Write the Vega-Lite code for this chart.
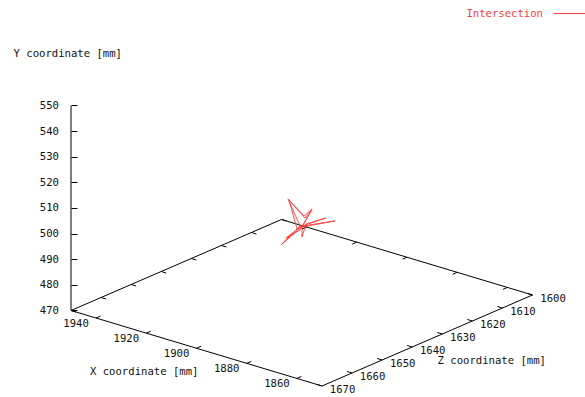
{
  "$schema": "https://vega.github.io/schema/vega-lite/v6.json",
  "autosize": {"type": "none"},
  "padding": {"left": 71, "top": 0, "right": 0, "bottom": 0},
  "width": 514,
  "height": 397,
  "background": "white",
  "config": {
    "view": {"stroke": null},
    "font": "DejaVu Sans Mono",
    "text": {"font": "DejaVu Sans Mono", "fontSize": 10.6, "fill": "#111"}
  },
  "resolve": {"axis": {"x": "independent", "y": "independent"}},
  "datasets": {
    "frame": [
      {"X1": 1950, "Y1": 470, "Z1": 1670, "X2": 1850, "Y2": 470, "Z2": 1670},
      {"X1": 1850, "Y1": 470, "Z1": 1670, "X2": 1850, "Y2": 470, "Z2": 1600},
      {"X1": 1850, "Y1": 470, "Z1": 1600, "X2": 1950, "Y2": 470, "Z2": 1600},
      {"X1": 1950, "Y1": 470, "Z1": 1600, "X2": 1950, "Y2": 470, "Z2": 1670},
      {"X1": 1950, "Y1": 470, "Z1": 1670, "X2": 1950, "Y2": 550, "Z2": 1670}
    ],
    "ticks": [
      {"axis": "X", "value": 1940, "edge": "front"},
      {"axis": "X", "value": 1920, "edge": "front"},
      {"axis": "X", "value": 1900, "edge": "front"},
      {"axis": "X", "value": 1880, "edge": "front"},
      {"axis": "X", "value": 1860, "edge": "front"},
      {"axis": "X", "value": 1940, "edge": "back"},
      {"axis": "X", "value": 1920, "edge": "back"},
      {"axis": "X", "value": 1900, "edge": "back"},
      {"axis": "X", "value": 1880, "edge": "back"},
      {"axis": "X", "value": 1860, "edge": "back"},
      {"axis": "Z", "value": 1600, "edge": "right"},
      {"axis": "Z", "value": 1610, "edge": "right"},
      {"axis": "Z", "value": 1620, "edge": "right"},
      {"axis": "Z", "value": 1630, "edge": "right"},
      {"axis": "Z", "value": 1640, "edge": "right"},
      {"axis": "Z", "value": 1650, "edge": "right"},
      {"axis": "Z", "value": 1660, "edge": "right"},
      {"axis": "Z", "value": 1670, "edge": "right"},
      {"axis": "Z", "value": 1600, "edge": "left"},
      {"axis": "Z", "value": 1610, "edge": "left"},
      {"axis": "Z", "value": 1620, "edge": "left"},
      {"axis": "Z", "value": 1630, "edge": "left"},
      {"axis": "Z", "value": 1640, "edge": "left"},
      {"axis": "Z", "value": 1650, "edge": "left"},
      {"axis": "Z", "value": 1660, "edge": "left"},
      {"axis": "Z", "value": 1670, "edge": "left"}
    ],
    "titles": [
      {"label": "X coordinate [mm]", "X": 1900, "Y": 470, "Z": 1670},
      {"label": "Z coordinate [mm]", "X": 1850, "Y": 470, "Z": 1635}
    ],
    "intersection": [
      {"series": "Intersection", "i": 1, "X": 1891.1, "Y": 506.6, "Z": 1643},
      {"series": "Intersection", "i": 2, "X": 1895.9, "Y": 515.8, "Z": 1643},
      {"series": "Intersection", "i": 3, "X": 1889.5, "Y": 511.0, "Z": 1643},
      {"series": "Intersection", "i": 4, "X": 1886.3, "Y": 514.7, "Z": 1643},
      {"series": "Intersection", "i": 5, "X": 1890.3, "Y": 506.5, "Z": 1643},
      {"series": "Intersection", "i": 6, "X": 1877.2, "Y": 512.7, "Z": 1643},
      {"series": "Intersection", "i": 7, "X": 1889.9, "Y": 507.0, "Z": 1643},
      {"series": "Intersection", "i": 8, "X": 1898.7, "Y": 497.0, "Z": 1643},
      {"series": "Intersection", "i": 9, "X": 1892.3, "Y": 505.1, "Z": 1643},
      {"series": "Intersection", "i": 10, "X": 1895.5, "Y": 515.5, "Z": 1643},
      {"series": "Intersection", "i": 11, "X": 1889.1, "Y": 510.3, "Z": 1643},
      {"series": "Intersection", "i": 12, "X": 1886.7, "Y": 513.8, "Z": 1643},
      {"series": "Intersection", "i": 13, "X": 1891.1, "Y": 505.1, "Z": 1643},
      {"series": "Intersection", "i": 14, "X": 1896.7, "Y": 500.3, "Z": 1643},
      {"series": "Intersection", "i": 15, "X": 1890.3, "Y": 506.9, "Z": 1643},
      {"series": "Intersection", "i": 16, "X": 1890.3, "Y": 502.6, "Z": 1643},
      {"series": "Intersection", "i": 17, "X": 1888.7, "Y": 508.1, "Z": 1643},
      {"series": "Intersection", "i": 18, "X": 1880.8, "Y": 512.8, "Z": 1643},
      {"series": "Intersection", "i": 19, "X": 1891.5, "Y": 506.1, "Z": 1643},
      {"series": "Intersection", "i": 20, "X": 1897.9, "Y": 498.0, "Z": 1643},
      {"series": "Intersection", "i": 21, "X": 1890.7, "Y": 507.1, "Z": 1643}
    ]
  },
  "layer": [
    {
      "data": {"name": "frame"},
      "transform": [
        {"calculate": "2.51*(1950-datum.X1) + 3.007143*(1670-datum.Z1)", "as": "px1"},
        {"calculate": "datum.Y1 - 0.390244*(0.755*(1950-datum.X1) - 1.3*(1670-datum.Z1))", "as": "py1"},
        {"calculate": "2.51*(1950-datum.X2) + 3.007143*(1670-datum.Z2)", "as": "px2"},
        {"calculate": "datum.Y2 - 0.390244*(0.755*(1950-datum.X2) - 1.3*(1670-datum.Z2))", "as": "py2"}
      ],
      "mark": {"type": "rule", "stroke": "#000", "strokeWidth": 1},
      "encoding": {
        "x": {"field": "px1", "type": "quantitative", "scale": {"domain": [0, 514], "zero": false, "nice": false}, "axis": null},
        "x2": {"field": "px2"},
        "y": {"field": "py1", "type": "quantitative", "scale": {"domain": [436.24, 591.17], "zero": false, "nice": false},
          "axis": {
            "values": [470, 480, 490, 500, 510, 520, 530, 540, 550],
            "domain": false, "grid": false,
            "tickSize": -6, "tickColor": "#000", "tickWidth": 1,
            "labelPadding": 18.5, "labelFont": "DejaVu Sans Mono", "labelFontSize": 10.6, "labelColor": "#111",
            "title": "Y coordinate [mm]", "titleAngle": 0, "titleAlign": "left", "titleBaseline": "middle",
            "titleX": -58, "titleY": 53, "titleFont": "DejaVu Sans Mono", "titleFontSize": 10.6,
            "titleFontWeight": "normal", "titleColor": "#111"
          }},
        "y2": {"field": "py2"}
      }
    },
    {
      "data": {"name": "ticks"},
      "transform": [
        {"calculate": "datum.axis=='X' ? datum.value : (datum.edge=='right' ? 1850 : 1950)", "as": "X1"},
        {"calculate": "datum.axis=='Z' ? datum.value : (datum.edge=='front' ? 1670 : 1600)", "as": "Z1"},
        {"calculate": "datum.axis=='Z' ? datum.X1 + (datum.edge=='right' ? 2 : -2) : datum.X1", "as": "X2"},
        {"calculate": "datum.axis=='X' ? datum.Z1 + (datum.edge=='front' ? -1.5 : 1.5) : datum.Z1", "as": "Z2"},
        {"calculate": "2.51*(1950-datum.X1) + 3.007143*(1670-datum.Z1)", "as": "px1"},
        {"calculate": "470 - 0.390244*(0.755*(1950-datum.X1) - 1.3*(1670-datum.Z1))", "as": "py1"},
        {"calculate": "2.51*(1950-datum.X2) + 3.007143*(1670-datum.Z2)", "as": "px2"},
        {"calculate": "470 - 0.390244*(0.755*(1950-datum.X2) - 1.3*(1670-datum.Z2))", "as": "py2"}
      ],
      "layer": [
        {
          "mark": {"type": "rule", "stroke": "#000", "strokeWidth": 1},
          "encoding": {
            "x": {"field": "px1", "type": "quantitative", "scale": {"domain": [0, 514], "zero": false, "nice": false}, "axis": null},
            "x2": {"field": "px2"},
            "y": {"field": "py1", "type": "quantitative", "scale": {"domain": [436.24, 591.17], "zero": false, "nice": false}, "axis": null},
            "y2": {"field": "py2"}
          }
        },
        {
          "transform": [{"filter": "datum.edge=='front'"}],
          "mark": {"type": "text", "align": "center", "baseline": "middle", "dx": -20, "dy": 5.5, "font": "DejaVu Sans Mono", "fontSize": 10.6, "fill": "#111"},
          "encoding": {
            "x": {"field": "px1", "type": "quantitative", "scale": {"domain": [0, 514], "zero": false, "nice": false}, "axis": null},
            "y": {"field": "py1", "type": "quantitative", "scale": {"domain": [436.24, 591.17], "zero": false, "nice": false}, "axis": null},
            "text": {"field": "value", "type": "nominal"}
          }
        },
        {
          "transform": [{"filter": "datum.edge=='right'"}],
          "mark": {"type": "text", "align": "center", "baseline": "middle", "dx": 20.5, "dy": 4.5, "font": "DejaVu Sans Mono", "fontSize": 10.6, "fill": "#111"},
          "encoding": {
            "x": {"field": "px1", "type": "quantitative", "scale": {"domain": [0, 514], "zero": false, "nice": false}, "axis": null},
            "y": {"field": "py1", "type": "quantitative", "scale": {"domain": [436.24, 591.17], "zero": false, "nice": false}, "axis": null},
            "text": {"field": "value", "type": "nominal"}
          }
        }
      ]
    },
    {
      "data": {"name": "titles"},
      "transform": [
        {"calculate": "2.51*(1950-datum.X) + 3.007143*(1670-datum.Z)", "as": "px"},
        {"calculate": "datum.Y - 0.390244*(0.755*(1950-datum.X) - 1.3*(1670-datum.Z))", "as": "py"}
      ],
      "layer": [
        {
          "transform": [{"filter": "datum.label=='X coordinate [mm]'"}],
          "mark": {"type": "text", "align": "center", "baseline": "middle", "dx": -52.3, "dy": 23.4, "font": "DejaVu Sans Mono", "fontSize": 10.6, "fill": "#111"},
          "encoding": {
            "x": {"field": "px", "type": "quantitative", "scale": {"domain": [0, 514], "zero": false, "nice": false}, "axis": null},
            "y": {"field": "py", "type": "quantitative", "scale": {"domain": [436.24, 591.17], "zero": false, "nice": false}, "axis": null},
            "text": {"field": "label", "type": "nominal"}
          }
        },
        {
          "transform": [{"filter": "datum.label=='Z coordinate [mm]'"}],
          "mark": {"type": "text", "align": "center", "baseline": "middle", "dx": 64.5, "dy": 21, "font": "DejaVu Sans Mono", "fontSize": 10.6, "fill": "#111"},
          "encoding": {
            "x": {"field": "px", "type": "quantitative", "scale": {"domain": [0, 514], "zero": false, "nice": false}, "axis": null},
            "y": {"field": "py", "type": "quantitative", "scale": {"domain": [436.24, 591.17], "zero": false, "nice": false}, "axis": null},
            "text": {"field": "label", "type": "nominal"}
          }
        }
      ]
    },
    {
      "data": {"name": "intersection"},
      "transform": [
        {"calculate": "2.51*(1950-datum.X) + 3.007143*(1670-datum.Z)", "as": "px"},
        {"calculate": "datum.Y - 0.390244*(0.755*(1950-datum.X) - 1.3*(1670-datum.Z))", "as": "py"}
      ],
      "mark": {"type": "line", "strokeWidth": 0.9},
      "encoding": {
        "x": {"field": "px", "type": "quantitative", "scale": {"domain": [0, 514], "zero": false, "nice": false}, "axis": null},
        "y": {"field": "py", "type": "quantitative", "scale": {"domain": [436.24, 591.17], "zero": false, "nice": false}, "axis": null},
        "order": {"field": "i", "type": "quantitative"},
        "color": {
          "field": "series", "type": "nominal",
          "scale": {"domain": ["Intersection"], "range": ["#ff3a3a"]},
          "legend": {
            "orient": "none", "legendX": 482, "legendY": -3, "title": null, "padding": 0,
            "symbolType": "stroke", "symbolSize": 1024, "symbolStrokeWidth": 1, "symbolStrokeColor": "#ff3a3a",
            "labelAlign": "right", "labelOffset": -43, "labelFont": "DejaVu Sans Mono", "labelFontSize": 10.6, "labelColor": "#ff3a3a"
          }
        }
      }
    }
  ]
}
